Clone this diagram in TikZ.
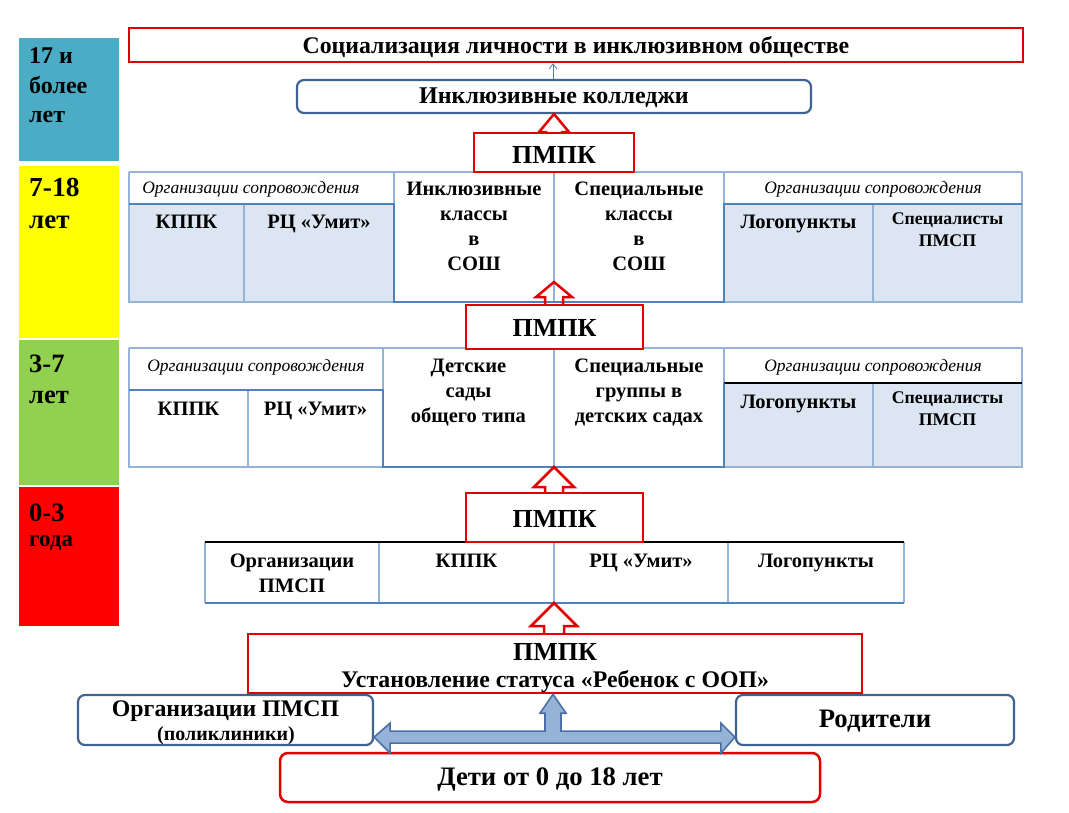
\documentclass[tikz,border=0pt]{standalone}
\usepackage{fontspec}
\setmainfont{Liberation Serif}
\usetikzlibrary{arrows.meta,calc}
\definecolor{ared}{HTML}{E00000}
\definecolor{tline}{HTML}{95B3D7}
\definecolor{tthick}{HTML}{4F81BD}
\definecolor{tfill}{HTML}{DCE6F2}
\definecolor{bbord}{HTML}{3F6391}
\definecolor{afill}{HTML}{95B3D7}
\definecolor{aedge}{HTML}{4A6FA5}
\definecolor{agblue}{HTML}{4BACC6}
\definecolor{agyellow}{HTML}{FFFF00}
\definecolor{aggreen}{HTML}{92D050}
\definecolor{agred}{HTML}{FF0000}
\newcommand\fs[1]{\fontsize{#1}{#1}\selectfont}
\newcommand\fsb[2]{\fontsize{#1}{#2}\selectfont}
\newcommand\hollowup[5]{%
  \draw[redarrow] let \p1=(#1), \p2=(#2) in
    ({\x1-#3pt},\y1) -- ({\x1-#3pt},{\y2-#5pt}) -- ({\x1-#4pt},{\y2-#5pt}) -- (\x1,\y2)
    -- ({\x1+#4pt},{\y2-#5pt}) -- ({\x1+#3pt},{\y2-#5pt}) -- ({\x1+#3pt},\y1);}
\tikzset{
  redbox/.style={draw=ared, line width=2.5pt, fill=white, inner sep=0pt},
  redarrow/.style={draw=ared, line width=2.5pt, line join=miter},
  bluebox/.style={draw=bbord, line width=2.2pt, rounded corners=7pt, fill=white, inner sep=0pt},
  thin/.style={draw=tline, line width=1.1pt},
  thick/.style={draw=tthick, line width=2.4pt},
  blk/.style={draw=black, line width=1.1pt},
  bt/.style={font=\bfseries\fs{#1}, inner sep=0pt},
  it/.style={font=\itshape\fs{17.5}, inner sep=0pt},
  celltxt/.style={font=\bfseries\fs{20.5}, inner sep=0pt, align=center},
  multi/.style={font=\bfseries\fsb{20.5}{25}},
  multis/.style={font=\bfseries\fsb{17.8}{22}},
  agetxt/.style={font=\bfseries\fs{#1}, inner sep=0pt, anchor=base west},
  bluearrow/.style={fill=afill, draw=aedge, line width=1.6pt, line join=miter}
}
\begin{document}
\begin{tikzpicture}[x=1pt,y=-1pt]
\useasboundingbox (0,0) rectangle (1069,812);
\fill[white] (0,0) rectangle (1069,812);

% ---- age column ----
\fill[agblue]   (19,38)  rectangle (119,161);
\fill[agyellow] (19,166) rectangle (119,338);
\fill[aggreen]  (19,340) rectangle (119,485);
\fill[agred]    (19,487) rectangle (119,626);
\node[agetxt=24] (a1a) at (29,63)  {17 и};
\node[agetxt=24] (a1b) at (29,93)  {более};
\node[agetxt=24] (a1c) at (29,122) {лет};
\node[agetxt=27.5] (a2a) at (29,196) {7-18};
\node[agetxt=27] (a2b) at (29,228) {лет};
\node[agetxt=26.5] (a3a) at (29,372) {3-7};
\node[agetxt=26.5] (a3b) at (29,403) {лет};
\node[agetxt=26.5] (a4a) at (29,521) {0-3};
\node[agetxt=23] (a4b) at (29,546) {года};

% ---- top ----
\node[redbox, minimum width=894pt, minimum height=34pt] (soc) at (576,45) {};
\node[bt=23.8] (soct) at (576,47) {Социализация личности в инклюзивном обществе};
\node[bluebox, minimum width=514pt, minimum height=33pt] (coll) at (554,96.5) {};
\node[bt=24] (collt) at (554,98) {Инклюзивные колледжи};
\draw[draw=tthick, line width=0.8pt, -{Straight Barb[length=5pt,width=8pt]}] (coll.north -| 553,0) -- (soc.south -| 553,0);

% ---- table 1 (7-18) ----
\fill[tfill] (129,204) rectangle (394,302);
\fill[tfill] (724,204) rectangle (1022,302);
\draw[thin] (129,172) -- (1022,172);
\draw[thin] (129,172) -- (129,302) -- (394,302);
\draw[thin] (724,302) -- (1022,302) -- (1022,172);
\draw[thin] (394,172) -- (394,204);
\draw[thin] (724,172) -- (724,204);
\draw[thin] (244,204) -- (244,302);
\draw[thin] (873,204) -- (873,302);
\draw[thin] (554,172) -- (554,302);
\draw[thick] (129,204) -- (394,204) -- (394,302) -- (724,302) -- (724,204) -- (1022,204);

\node[it] (h1l) at (251,189) {Организации сопровождения};
\node[it] (h1r) at (873,189) {Организации сопровождения};
\node[celltxt, anchor=north] (t1a) at (186.5,215) {КППК};
\node[celltxt, anchor=north] (t1b) at (319,215) {РЦ «Умит»};
\node[celltxt, multi, anchor=north] (t1c) at (474,182) {Инклюзивные\\классы\\в\\СОШ};
\node[celltxt, multi, anchor=north] (t1d) at (639,182) {Специальные\\классы\\в\\СОШ};
\node[celltxt, anchor=north] (t1e) at (798.5,215) {Логопункты};
\node[celltxt, multis, anchor=north] (t1f) at (947.5,213) {Специалисты\\ПМСП};

% ---- table 2 (3-7) ----
\fill[tfill] (724,383) rectangle (1022,467);
\draw[thin] (129,348) -- (1022,348) -- (1022,467) -- (724,467);
\draw[thin] (129,348) -- (129,467) -- (383,467);
\draw[thin] (383,348) -- (383,390);
\draw[thin] (724,348) -- (724,383);
\draw[thin] (248,390) -- (248,467);
\draw[thin] (873,383) -- (873,467);
\draw[thin] (554,348) -- (554,467);
\draw[blk] (724,383) -- (1022,383);
\draw[thick] (129,390) -- (383,390) -- (383,467) -- (724,467) -- (724,383);

\node[it] (h2l) at (256,367) {Организации сопровождения};
\node[it] (h2r) at (873,367) {Организации сопровождения};
\node[celltxt, anchor=north] (t2a) at (188.5,402) {КППК};
\node[celltxt, anchor=north] (t2b) at (315.5,402) {РЦ «Умит»};
\node[celltxt, multi, anchor=north] (t2c) at (468.5,359) {Детские\\сады\\общего типа};
\node[celltxt, multi, anchor=north] (t2d) at (639,359) {Специальные\\группы в\\детских садах};
\node[celltxt, anchor=north] (t2e) at (798.5,395) {Логопункты};
\node[celltxt, multis, anchor=north] (t2f) at (947.5,392) {Специалисты\\ПМСП};

% ---- table 3 (0-3) ----
\draw[thin] (205,542) -- (205,603);
\draw[thin] (904,542) -- (904,603);
\draw[thin] (379,542) -- (379,603);
\draw[thin] (554,542) -- (554,603);
\draw[thin] (728,542) -- (728,603);
\draw[blk] (205,542) -- (904,542);
\draw[thick] (205,603) -- (904,603);
\node[celltxt, multi, anchor=north] (t3a) at (292,554) {Организации\\ПМСП};
\node[celltxt, anchor=north] (t3b) at (466.5,554) {КППК};
\node[celltxt, anchor=north] (t3c) at (641,554) {РЦ «Умит»};
\node[celltxt, anchor=north] (t3d) at (816,554) {Логопункты};

% ---- ПМПК boxes ----
\node[redbox, minimum width=160pt, minimum height=39pt] (p1) at (554,152.5) {};
\node[bt=26] (p1t) at (554,155) {ПМПК};
\node[redbox, minimum width=177pt, minimum height=44pt] (p2) at (554.5,327) {};
\node[bt=26] (p2t) at (554.5,328) {ПМПК};
\node[redbox, minimum width=177pt, minimum height=49pt] (p3) at (554.5,517.5) {};
\node[bt=26] (p3t) at (554.5,519) {ПМПК};
\node[redbox, minimum width=614pt, minimum height=59pt] (p4) at (555,663.5) {};
\node[bt=26] (p4t) at (555,652) {ПМПК};
\node[bt=23.8] (p4s) at (555,682) {Установление статуса «Ребенок с ООП»};

% named tips
\coordinate (tip1) at (554,114);
\coordinate (tip2) at (554,282);
\coordinate (tip3) at (554,467);
\coordinate (tip4) at (554,603);
\coordinate (b1) at (554,133);
\coordinate (b2) at (554,305);
\coordinate (b3) at (554,493);
\coordinate (b4) at (554,634);
\hollowup{b1}{tip1}{8}{15}{18}
\hollowup{b2}{tip2}{9}{18}{15}
\hollowup{b3}{tip3}{9}{20}{20}
\hollowup{b4}{tip4}{10}{23}{23}

% ---- bottom ----
\node[bluebox, minimum width=295pt, minimum height=50pt] (pmsp) at (225.5,720) {};
\node[bt=23.8] (pmspt) at (225.5,711) {Организации ПМСП};
\node[bt=20] (pmsps) at (226,736) {(поликлиники)};
\node[bluebox, minimum width=278pt, minimum height=50pt] (par) at (875,720) {};
\node[bt=26.7] (part) at (875,721) {Родители};
\node[redbox, rounded corners=8pt, minimum width=540pt, minimum height=49pt] (deti) at (550,777.5) {};
\node[bt=26.7] (detit) at (550,779) {Дети от 0 до 18 лет};

\path[bluearrow] let \p1=(pmsp.south east), \p2=(par.south west), \p3=(p4.south) in
 (\x1,{\y1+9pt}) -- ({\x1+16pt},{\y1+23pt}) -- ({\x1+16pt},{\y1+15pt}) -- ({\x3-10pt},{\y1+15pt})
 -- ({\x3-10pt},{\y3-19pt}) -- ({\x3-15pt},{\y3-19pt}) -- ({\x3-2pt},\y3) -- ({\x3+11pt},{\y3-19pt})
 -- ({\x3+6pt},{\y3-19pt}) -- ({\x3+6pt},{\y1+15pt}) -- ({\x2-14pt},{\y1+15pt}) -- ({\x2-14pt},{\y1+23pt})
 -- (\x2,{\y1+9pt}) -- ({\x2-14pt},{\y1-7pt}) -- ({\x2-14pt},{\y1+3pt}) -- ({\x1+16pt},{\y1+3pt})
 -- ({\x1+16pt},{\y1-7pt}) -- cycle;
\end{tikzpicture}
\end{document}
